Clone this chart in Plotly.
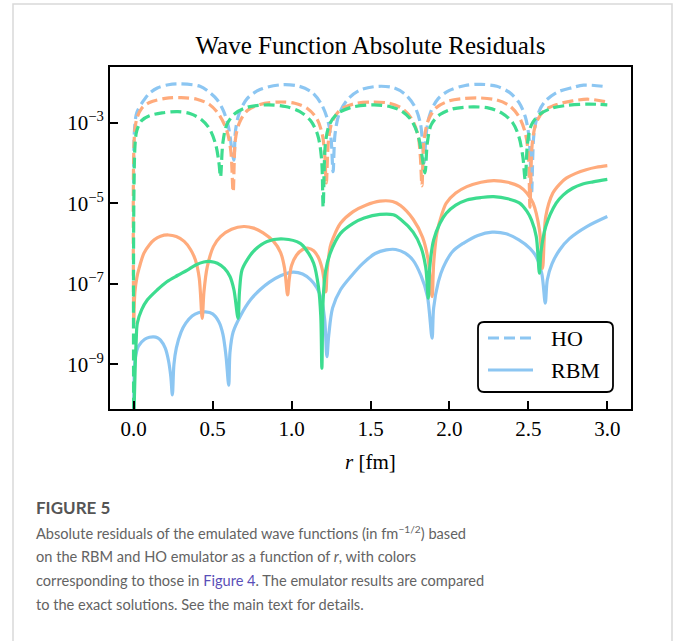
import plotly.graph_objects as go

# ---------------- data (log10 of absolute residual vs r in fm) ----------------
r_ho_blue = [0.0, 0.005, 0.02, 0.065, 0.1, 0.15, 0.22, 0.3, 0.42, 0.48, 0.53, 0.57, 0.6, 0.634,
             0.645, 0.67, 0.72, 0.8, 0.94, 1.05, 1.13, 1.19, 1.23, 1.25, 1.263,
             1.275, 1.3, 1.35, 1.43, 1.55, 1.65, 1.72, 1.78, 1.815, 1.83, 1.84,
             1.855, 1.88, 1.93, 2.0, 2.1, 2.2, 2.3, 2.38, 2.44, 2.48, 2.505, 2.52,
             2.535, 2.56, 2.6, 2.68, 2.78, 2.85, 3.0]
lg_ho_blue = [-4.5, -3.2, -2.75, -2.44, -2.27, -2.14, -2.06, -2.04, -2.1, -2.25, -2.44, -2.72, -3.1, -3.93,
              -3.2, -2.75, -2.4, -2.18, -2.06, -2.1, -2.25, -2.55, -2.95, -3.4, -4.22,
              -3.3, -2.8, -2.45, -2.2, -2.1, -2.14, -2.3, -2.6, -3.0, -3.5, -4.0,
              -3.2, -2.75, -2.4, -2.2, -2.08, -2.05, -2.1, -2.25, -2.5, -2.85, -3.4, -4.75,
              -3.3, -2.8, -2.5, -2.25, -2.13, -2.07, -2.11]

r_ho_orange = [0.0, 0.005, 0.02, 0.05, 0.1, 0.2, 0.3, 0.4, 0.48, 0.54, 0.59, 0.615, 0.63,
               0.645, 0.67, 0.72, 0.8, 0.92, 1.02, 1.1, 1.16, 1.195, 1.21, 1.22,
               1.235, 1.26, 1.31, 1.4, 1.52, 1.62, 1.7, 1.76, 1.8, 1.815, 1.826,
               1.84, 1.87, 1.92, 2.0, 2.1, 2.2, 2.3, 2.38, 2.44, 2.48, 2.5, 2.51,
               2.525, 2.55, 2.6, 2.68, 2.78, 2.88, 3.0]
lg_ho_orange = [-8.0, -3.3, -2.9, -2.65, -2.5, -2.4, -2.38, -2.42, -2.55, -2.8, -3.2, -3.7, -4.72,
                -3.4, -3.0, -2.7, -2.55, -2.49, -2.52, -2.65, -2.9, -3.3, -3.8, -4.5,
                -3.4, -2.95, -2.68, -2.53, -2.49, -2.52, -2.65, -2.9, -3.3, -3.8, -4.57,
                -3.4, -2.9, -2.62, -2.46, -2.4, -2.39, -2.44, -2.58, -2.85, -3.25, -3.8, -5.1,
                -3.5, -3.0, -2.7, -2.55, -2.46, -2.42, -2.49]

r_ho_green = [0.0, 0.008, 0.02, 0.05, 0.1, 0.18, 0.28, 0.36, 0.43, 0.48, 0.52, 0.54, 0.55,
              0.565, 0.59, 0.64, 0.72, 0.85, 0.96, 1.05, 1.12, 1.165, 1.19, 1.2,
              1.215, 1.24, 1.29, 1.38, 1.52, 1.62, 1.7, 1.76, 1.8, 1.825, 1.845,
              1.86, 1.885, 1.94, 2.02, 2.15, 2.25, 2.33, 2.4, 2.44, 2.465, 2.48,
              2.495, 2.52, 2.57, 2.65, 2.75, 2.88, 3.0]
lg_ho_green = [-10.5, -3.6, -3.2, -2.95, -2.83, -2.76, -2.73, -2.78, -2.93, -3.15, -3.55, -4.0, -4.35,
               -3.5, -3.05, -2.78, -2.62, -2.56, -2.6, -2.72, -2.95, -3.3, -3.9, -5.1,
               -3.5, -3.05, -2.78, -2.62, -2.56, -2.6, -2.72, -2.95, -3.3, -3.8, -4.25,
               -3.5, -3.05, -2.8, -2.66, -2.61, -2.64, -2.76, -3.0, -3.35, -3.85, -4.42,
               -3.5, -3.05, -2.8, -2.64, -2.57, -2.54, -2.56]

r_rbm_blue = [0.0, 0.004, 0.01, 0.03, 0.07, 0.1, 0.127, 0.15, 0.17, 0.2, 0.22, 0.235, 0.245,
              0.255, 0.27, 0.3, 0.33, 0.37, 0.41, 0.455, 0.5, 0.54, 0.565, 0.585, 0.602,
              0.61, 0.63, 0.676, 0.74, 0.8, 0.86, 0.93, 1.01, 1.07, 1.12, 1.16, 1.19, 1.21, 1.224,
              1.235, 1.26, 1.31, 1.38, 1.45, 1.53, 1.6, 1.66, 1.72, 1.77, 1.82, 1.86, 1.89,
              1.9, 1.93, 1.96, 2.02, 2.09, 2.18, 2.27, 2.36, 2.44, 2.51, 2.55, 2.585, 2.607,
              2.62, 2.65, 2.7, 2.76, 2.87, 3.0]
lg_rbm_blue = [-10.5, -9.2, -8.85, -8.55, -8.38, -8.33, -8.32, -8.34, -8.4, -8.6, -8.9, -9.3, -9.76,
               -9.0, -8.6, -8.2, -7.98, -7.8, -7.72, -7.70, -7.75, -7.95, -8.25, -8.8, -9.52,
               -8.7, -8.2, -7.8, -7.4, -7.15, -6.96, -6.8, -6.71, -6.76, -6.9, -7.1, -7.4, -7.9, -8.81,
               -8.3, -7.6, -7.15, -6.8, -6.5, -6.25, -6.16, -6.15, -6.24, -6.42, -6.8, -7.3, -8.35,
               -7.6, -6.95, -6.6, -6.2, -5.99, -5.8, -5.72, -5.76, -5.91, -6.12, -6.33, -6.75, -7.48,
               -6.9, -6.5, -6.15, -5.88, -5.58, -5.33]

r_rbm_orange = [0.0, 0.008, 0.02, 0.034, 0.065, 0.1, 0.13, 0.17, 0.22, 0.27, 0.32, 0.36, 0.39, 0.415, 0.434,
                0.445, 0.466, 0.505, 0.55, 0.62, 0.697, 0.76, 0.82, 0.886, 0.93, 0.955, 0.975,
                0.985, 1.0, 1.03, 1.07, 1.107, 1.14, 1.17, 1.195, 1.217,
                1.225, 1.245, 1.265, 1.31, 1.39, 1.47, 1.56, 1.64, 1.69, 1.77, 1.83, 1.865, 1.89,
                1.9, 1.92, 1.95, 1.98, 2.04, 2.11, 2.2, 2.28, 2.37, 2.445, 2.49, 2.53, 2.57, 2.59,
                2.6, 2.61, 2.655, 2.7, 2.74, 2.8, 2.866, 2.93, 3.0]
lg_rbm_orange = [-8.0, -7.2, -6.85, -6.62, -6.24, -6.03, -5.91, -5.82, -5.79, -5.83, -5.95, -6.15, -6.4, -6.85, -7.86,
                 -7.2, -6.58, -6.08, -5.83, -5.65, -5.58, -5.62, -5.74, -5.95, -6.22, -6.6, -7.28,
                 -6.9, -6.55, -6.3, -6.15, -6.12, -6.18, -6.35, -6.65, -7.2,
                 -6.7, -6.08, -5.85, -5.5, -5.21, -5.05, -4.95, -4.96, -5.06, -5.4, -5.85, -6.4, -7.32,
                 -6.5, -5.75, -5.3, -5.0, -4.75, -4.59, -4.48, -4.44, -4.48, -4.59, -4.75, -5.0, -5.66, -6.62,
                 -5.9, -5.33, -4.75, -4.52, -4.38, -4.26, -4.17, -4.11, -4.07]

r_rbm_green = [0.0, 0.01, 0.016, 0.023, 0.05, 0.087, 0.15, 0.21, 0.28, 0.34, 0.39, 0.444, 0.49, 0.53, 0.575, 0.61, 0.635, 0.661,
               0.67, 0.686, 0.72, 0.77, 0.845, 0.95, 1.055, 1.1, 1.14, 1.17, 1.185, 1.192,
               1.2, 1.215, 1.245, 1.31, 1.39, 1.46, 1.56, 1.645, 1.69, 1.77, 1.82, 1.85, 1.866,
               1.875, 1.9, 1.94, 1.98, 2.04, 2.11, 2.2, 2.28, 2.37, 2.445, 2.49, 2.52, 2.55, 2.57,
               2.58, 2.61, 2.676, 2.72, 2.78, 2.84, 2.91, 3.0]
lg_rbm_green = [-10.5, -9.0, -8.4, -7.98, -7.65, -7.4, -7.15, -6.95, -6.79, -6.66, -6.54, -6.46, -6.45, -6.49, -6.62, -6.82, -7.15, -7.86,
                -7.2, -6.66, -6.4, -6.15, -5.95, -5.89, -6.0, -6.2, -6.49, -7.07, -7.8, -9.1,
                -7.4, -6.7, -6.24, -5.75, -5.5, -5.37, -5.28, -5.29, -5.4, -5.72, -6.1, -6.6, -7.36,
                -6.6, -5.91, -5.5, -5.25, -5.05, -4.92, -4.86, -4.84, -4.89, -5.0, -5.2, -5.42, -5.83, -6.74,
                -6.2, -5.58, -5.0, -4.8, -4.63, -4.53, -4.47, -4.41]

x_tick_vals = [0.0, 0.5, 1.0, 1.5, 2.0, 2.5, 3.0]
x_tick_text = ["0.0", "0.5", "1.0", "1.5", "2.0", "2.5", "3.0"]
y_tick_vals = [1e-3, 1e-5, 1e-7, 1e-9]
y_tick_text = ["10<sup>\u22123</sup>", "10<sup>\u22125</sup>", "10<sup>\u22127</sup>", "10<sup>\u22129</sup>"]
legend_labels = ["HO", "RBM"]

# ---------------- styling ----------------
BLUE = "#8cc6f2"
ORANGE = "#ffab7c"
GREEN = "#3ddc8f"
SERIF = "Liberation Serif"
SANS = "Lato"
LW = 3.2
DASH = "11px,5px"

# plot area in pixels
W, H = 680, 641
L, R, T, B = 110, 631, 67, 409


def px_x(px):
    return (px - L) / (R - L)


def px_y(py):
    return (B - py) / (B - T)


fig = go.Figure()

series = [
    (r_rbm_blue, lg_rbm_blue, BLUE, "solid", "RBM"),
    (r_ho_blue, lg_ho_blue, BLUE, DASH, "HO"),
    (r_rbm_orange, lg_rbm_orange, ORANGE, "solid", "RBM"),
    (r_ho_orange, lg_ho_orange, ORANGE, DASH, "HO"),
    (r_rbm_green, lg_rbm_green, GREEN, "solid", "RBM"),
    (r_ho_green, lg_ho_green, GREEN, DASH, "HO"),
]
for rr, lg, col, dash, name in series:
    fig.add_trace(go.Scatter(
        x=rr, y=[10 ** v for v in lg], mode="lines", name=name,
        line=dict(color=col, width=LW, dash=dash, shape="spline", smoothing=0.9),
        showlegend=False,
    ))

fig.update_layout(
    width=W, height=H,
    margin=dict(l=L, r=W - R, t=T, b=H - B),
    paper_bgcolor="white", plot_bgcolor="white",
    title=dict(text="Wave Function Absolute Residuals", x=0.5, xref="paper", xanchor="center",
               y=1 - 45 / H, yref="container", yanchor="middle",
               font=dict(family=SERIF, size=25, color="black")),
    xaxis=dict(range=[-0.15, 3.15], tickvals=x_tick_vals, ticktext=x_tick_text,
               ticks="inside", ticklen=8, tickwidth=1.6, tickcolor="black",
               showline=True, linewidth=2, linecolor="black", mirror=True,
               showgrid=False, zeroline=False,
               tickfont=dict(family=SERIF, size=21, color="black")),
    yaxis=dict(type="log", range=[-10.11, -1.62], tickvals=y_tick_vals, ticktext=y_tick_text,
               ticks="inside", ticklen=8, tickwidth=1.6, tickcolor="black",
               showline=True, linewidth=2, linecolor="black", mirror=True,
               showgrid=False, zeroline=False,
               tickfont=dict(family=SERIF, size=21, color="black")),
    showlegend=False,
)

# legend (rounded box with line samples)
lx0, lx1, ly0, ly1, rad = 478, 613, 322, 392, 6
path = (f"M {px_x(lx0 + rad)},{px_y(ly0)} L {px_x(lx1 - rad)},{px_y(ly0)} "
        f"Q {px_x(lx1)},{px_y(ly0)} {px_x(lx1)},{px_y(ly0 + rad)} "
        f"L {px_x(lx1)},{px_y(ly1 - rad)} Q {px_x(lx1)},{px_y(ly1)} {px_x(lx1 - rad)},{px_y(ly1)} "
        f"L {px_x(lx0 + rad)},{px_y(ly1)} Q {px_x(lx0)},{px_y(ly1)} {px_x(lx0)},{px_y(ly1 - rad)} "
        f"L {px_x(lx0)},{px_y(ly0 + rad)} Q {px_x(lx0)},{px_y(ly0)} {px_x(lx0 + rad)},{px_y(ly0)} Z")
fig.add_shape(type="path", path=path, xref="paper", yref="paper",
              line=dict(color="black", width=1.8), fillcolor="white")
for lab, dash, yy in zip(legend_labels, [DASH, "solid"], [338, 370]):
    fig.add_shape(type="line", xref="paper", yref="paper",
                  x0=px_x(488), x1=px_x(533), y0=px_y(yy), y1=px_y(yy),
                  line=dict(color=BLUE, width=LW, dash=dash))
    fig.add_annotation(text=lab, xref="paper", yref="paper",
                       x=px_x(549), y=px_y(yy), xanchor="left", yanchor="middle", showarrow=False,
                       font=dict(family=SERIF, size=22, color="black"))

# x-axis label
fig.add_annotation(text="<i>r</i> [fm]", xref="paper", yref="paper",
                   x=0.5, y=px_y(462), xanchor="center", yanchor="middle", showarrow=False,
                   font=dict(family=SERIF, size=21, color="black"))

# outer frame of the figure panel
fig.add_shape(type="rect", xref="paper", yref="paper",
              x0=px_x(13), x1=px_x(672), y0=px_y(660), y1=px_y(4),
              line=dict(color="#d9d9d9", width=1.5), fillcolor="rgba(0,0,0,0)", layer="below")

# caption
CAP = "#636363"
fig.add_annotation(text="<b>FIGURE 5</b>", xref="paper", yref="paper",
                   x=px_x(34), y=px_y(507), xanchor="left", yanchor="middle", showarrow=False,
                   font=dict(family=SANS, size=17, color="#555555"))
cap_lines = [
    "Absolute residuals of the emulated wave functions (in fm<sup>\u22121/2</sup>) based",
    "on the RBM and HO emulator as a function of <i>r</i>, with colors",
    "corresponding to those in <span style='color:#5a4fb8'>Figure 4</span>. The emulator results are compared",
    "to the exact solutions. See the main text for details.",
]
cap_y = [532, 556, 580, 604]
for txt, yy in zip(cap_lines, cap_y):
    fig.add_annotation(text=txt, xref="paper", yref="paper",
                       x=px_x(34), y=px_y(yy), xanchor="left", yanchor="middle", showarrow=False,
                       font=dict(family=SANS, size=14.6, color=CAP))

fig.write_html("out.html", config={"displayModeBar": False},
               post_script="document.body.style.margin='0px';")
